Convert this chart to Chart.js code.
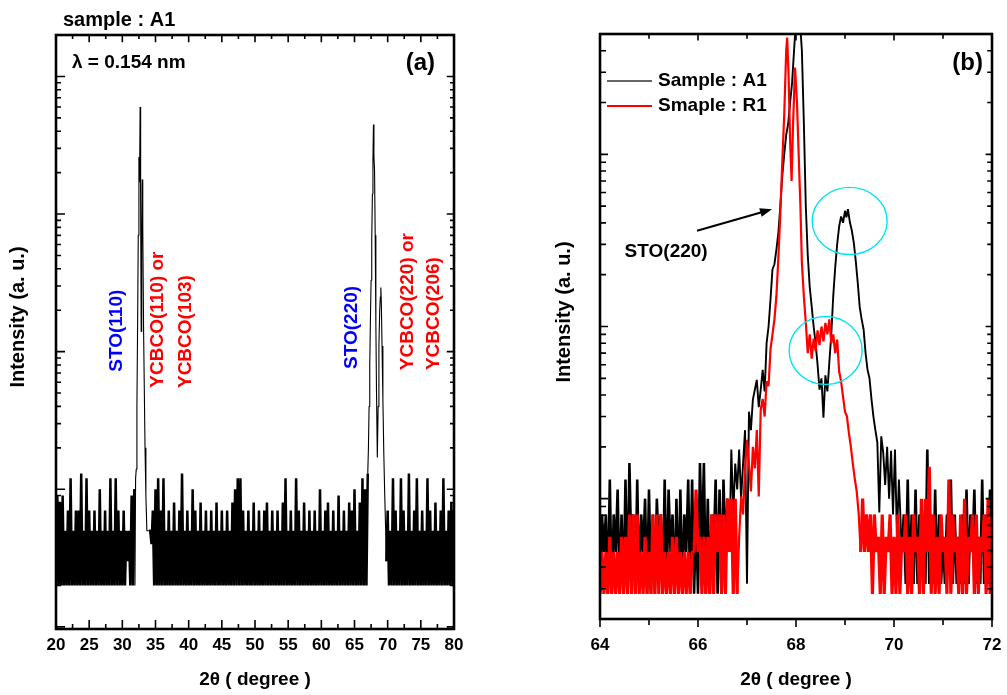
<!DOCTYPE html>
<html>
<head>
<meta charset="utf-8">
<script src="https://cdn.jsdelivr.net/npm/chart.js@4.4.0/dist/chart.umd.min.js"></script>
<style>
  body { margin: 0; background: #fff; }
  #wrap { position: relative; width: 1007px; height: 695px; }
  canvas { position: absolute; top: 0; }
  #chartA { left: 0; }
  #chartB { left: 520px; }
</style>
</head>
<body>
<div id="wrap">
  <canvas id="chartA" width="520" height="695"></canvas>
  <canvas id="chartB" width="487" height="695"></canvas>
</div>
<script>
const FONT = "'Liberation Sans', Arial, sans-serif";
const BLUE = '#0000ff';
const RED = '#ff0000';
const CYAN = '#00e4f0';

// ---- panel (a): sample A1, 2theta 20-80, scan step 0.2 deg away from the peaks
const aStep = 0.2;
const aNoise1Start = 20.0;
const aNoise1 = [2,9,2,8,2,9,2,5,2,7,2,12,2,5,2,7,2,7,2,13,2,5,2,12,2,7,2,5,2,7,
  2,5,2,10,2,5,2,7,2,5,2,12,2,5,2,12,2,7,2,5,2,7,2,5,3,5,2,9,2,10];
const aPeak1X = [31.9, 32.0, 32.1, 32.2, 32.3, 32.4, 32.5, 32.6, 32.68, 32.76, 32.84, 32.92, 33.0, 33.08, 33.2, 33.3, 33.42, 33.55, 33.7, 33.85];
const aPeak1Y = [2, 12, 14, 40, 150, 700, 2600, 1700, 6000, 1200, 140, 600, 1780, 800, 150, 60, 20, 9, 5, 5];
const aNoise2Start = 34.0;
const aNoise2 = [5,5,4,7,2,10,2,12,2,7,2,12,2,5,2,7,2,5,2,8,
  2,5,2,7,2,13,2,5,2,7,2,5,2,10,2,7,2,5,2,8,
  2,5,2,7,2,5,2,7,2,5,2,8,2,5,2,7,2,5,2,7,
  2,5,2,8,2,10,2,12,2,12,2,7,2,5,2,7,2,5,2,8,
  2,5,2,7,2,5,2,7,2,8,2,5,2,7,2,5,2,7,2,5,
  2,8,2,12,2,5,2,7,2,5,2,12,2,7,2,5,2,8,2,5,
  2,7,2,5,2,7,2,5,2,10,2,5,2,7,2,8,2,5,2,7,
  2,5,2,9,2,5,2,7,2,5,2,8,2,7,2,10,2,5,2,8,
  2,12,2,10,2,13];
const aPeak2X = [67.1, 67.2, 67.3, 67.4, 67.5, 67.6, 67.7, 67.78, 67.86, 67.93, 68.02, 68.12, 68.22, 68.32, 68.44, 68.56, 68.68, 68.8, 68.9, 68.97, 69.05, 69.15, 69.28, 69.42, 69.56, 69.7];
const aPeak2Y = [20, 40, 80, 170, 330, 650, 1400, 2500, 4480, 2600, 2100, 700, 160, 50, 17, 40, 110, 200, 250, 292, 220, 110, 45, 18, 9, 5];
const aNoise3Start = 69.8;
const aNoise3 = [3,7,2,5,2,12,2,7,2,5,2,12,2,7,2,5,2,13,2,5,2,7,2,12,2,5,2,7,2,5,
  2,12,2,7,2,5,2,8,2,5,2,7,2,12,2,5,2,7,2,8,2,7];
const aXTicks = [20, 25, 30, 35, 40, 45, 50, 55, 60, 65, 70, 75, 80];
const aXMinor = [22.5, 27.5, 32.5, 37.5, 42.5, 47.5, 52.5, 57.5, 62.5, 67.5, 72.5, 77.5];

// ---- panel (b): zoom 64-72, sample A1 and R1, scan step 0.04 deg in the flat parts
const bStep = 0.04;
const bA1Noise1Start = 64.0;
const bA1Noise1 = [28,81,49,81,28,129,28,81,49,113,28,81,28,129,28,161,49,81,28,129,
  28,81,49,100,28,113,28,81,28,100,49,81,28,129,28,113,49,81,28,100,
  28,113,28,81,49,129,28,129,28,81,28,161,49,161,28,100,28,81,49,129,
  28,113,28,129,49,100];
const bA1PeakX = [66.64, 66.68, 66.72, 66.76, 66.80, 66.84, 66.88, 66.92, 66.96, 67.00,
  67.04, 67.08, 67.12, 67.16, 67.20, 67.24, 67.28, 67.32, 67.36, 67.40,
  67.44, 67.48, 67.52, 67.56, 67.60, 67.64, 67.68, 67.72, 67.76, 67.80,
  67.84, 67.88, 67.92, 67.96, 68.00, 68.04, 68.08, 68.12, 68.16, 68.20,
  68.24, 68.28, 68.32, 68.36, 68.40, 68.44, 68.48, 68.52, 68.56, 68.60,
  68.64, 68.68, 68.72, 68.76, 68.80, 68.84, 68.88, 68.92, 68.96, 69.00,
  69.03, 69.06, 69.10, 69.14, 69.18, 69.22, 69.26, 69.30, 69.34, 69.38,
  69.42, 69.46, 69.50, 69.54, 69.58, 69.62, 69.66, 69.70, 69.74, 69.78,
  69.82, 69.86, 69.90, 69.94, 69.98, 70.02, 70.06, 70.10];
const bA1PeakY = [49, 193, 81, 160, 113, 193, 100, 160, 250, 32,
  320, 250, 376, 430, 490, 340, 430, 560, 420, 800,
  1000, 1440, 2150, 2300, 2800, 3500, 5000, 7500, 10000, 13000,
  15000, 20000, 26000, 40000, 60000, 52000, 60000, 40000, 15300, 5000,
  2600, 1700, 1310, 1000, 800, 600, 430, 500, 295, 520,
  420, 617, 900, 1500, 2200, 3000, 3800, 4360, 4000, 4700,
  4300, 4800, 4030, 3600, 3060, 2400, 1800, 1300, 1100, 960,
  700, 560, 500, 380, 300, 250, 212, 83, 230, 185,
  120, 200, 100, 190, 81, 193, 60, 129];
const bA1Noise2Start = 70.16;
const bA1Noise2 = [49,81,32,129,32,81,32,113,32,81,49,60,32,193,32,81,32,113,32,81,
  32,60,32,81,49,129,32,81,32,60,32,81,32,113,32,81,49,113,32,60,
  32,129,32,81,32,113,32];

const bR1Noise1Start = 64.0;
const bR1Noise1 = [28,49,28,49,28,60,28,49,28,49,28,60,28,60,28,81,28,81,28,81,
  28,49,28,60,28,49,28,81,28,81,28,81,28,49,28,49,28,60,28,60,
  28,49,28,49,28,49,28,49,49,113,49,60,28,60,28,60,28,81,28,81,
  49,81,28,81,28,100,49,100,28,100,28];
const bR1PeakX = [66.84, 66.88, 66.92, 66.96, 67.00, 67.04, 67.08, 67.12, 67.16, 67.20,
  67.24, 67.28, 67.32, 67.36, 67.40, 67.44, 67.48, 67.52, 67.56, 67.60,
  67.64, 67.68, 67.72, 67.76, 67.80, 67.82, 67.85, 67.88, 67.91, 67.94,
  67.98, 68.02, 68.06, 68.09, 68.12, 68.16, 68.20, 68.24, 68.28, 68.32,
  68.36, 68.40, 68.44, 68.48, 68.52, 68.56, 68.60, 68.64, 68.68, 68.72,
  68.76, 68.80, 68.84, 68.88, 68.92, 68.96, 69.00, 69.04, 69.08, 69.12,
  69.16, 69.20, 69.24, 69.28];
const bR1PeakY = [60, 103, 81, 150, 220, 160, 110, 200, 150, 250,
  103, 330, 380, 300, 480, 450, 740, 900, 1100, 1500,
  2500, 4500, 9000, 17000, 40000, 47700, 28000, 12000, 7000, 15000,
  31900, 20000, 9000, 5000, 2350, 1500, 1055, 700, 900, 650,
  850, 720, 950, 780, 1000, 820, 1050, 900, 1100, 800,
  900, 700, 840, 550, 480, 390, 320, 300, 240, 200,
  160, 130, 110, 81];
const bR1Noise2Start = 69.32;
const bR1Noise2 = [49,100,49,81,49,81,28,81,49,60,28,81,28,60,49,81,28,60,28,81,
  28,60,49,81,28,60,28,81,49,60,28,100,28,100,49,153,28,81,28,60,
  28,81,49,60,28,129,28,81,49,60,28,81,28,100,28,60,49,81,28,81,
  28,60,49,81,28,100,28,81];
const bXTicks = [64, 66, 68, 70, 72];
const bXMinor = [65, 67, 69, 71];

// noise parts of a scan are flagged so they can be stroked a bit heavier
function scanPoints(start, step, ys) {
  return ys.map((v, i) => ({x: Math.round((start + i * step) * 100) / 100, y: v, noise: true}));
}
function pairPoints(xs, ys) {
  return xs.map((x, i) => ({x: x, y: ys[i], noise: false}));
}
function logMinor(min, max) {
  let out = [];
  for (let e = Math.floor(Math.log10(min)); e <= Math.ceil(Math.log10(max)); e++) {
    for (let m = 2; m <= 9; m++) {
      let v = m * Math.pow(10, e);
      if (v > min && v < max) out.push(v);
    }
  }
  return out;
}

const aPoints = [].concat(
  scanPoints(aNoise1Start, aStep, aNoise1),
  pairPoints(aPeak1X, aPeak1Y),
  scanPoints(aNoise2Start, aStep, aNoise2),
  pairPoints(aPeak2X, aPeak2Y),
  scanPoints(aNoise3Start, aStep, aNoise3)
);
const bA1Points = [].concat(
  scanPoints(bA1Noise1Start, bStep, bA1Noise1),
  pairPoints(bA1PeakX, bA1PeakY),
  scanPoints(bA1Noise2Start, bStep, bA1Noise2)
);
const bR1Points = [].concat(
  scanPoints(bR1Noise1Start, bStep, bR1Noise1),
  pairPoints(bR1PeakX, bR1PeakY),
  scanPoints(bR1Noise2Start, bStep, bR1Noise2)
);

function widthBy(points, noiseW, peakW) {
  return c => (points[c.p0DataIndex].noise && points[c.p1DataIndex].noise) ? noiseW : peakW;
}

// box + tick marks, drawn from the chart's own scales
const axisFrame = {
  id: 'axisFrame',
  afterDatasetsDraw(chart, args, o) {
    const {ctx, chartArea: ca, scales} = chart;
    const xs = scales.x, ys = scales.y;
    ctx.save();
    ctx.strokeStyle = '#000';
    ctx.lineWidth = 1.6;
    ctx.beginPath();
    function xTick(v, len) {
      let px = xs.getPixelForValue(v);
      ctx.moveTo(px, ca.bottom); ctx.lineTo(px, ca.bottom + o.bottomDir * len);
      ctx.moveTo(px, ca.top); ctx.lineTo(px, ca.top + len * 0.8);
    }
    function yTick(v, len) {
      let py = ys.getPixelForValue(v);
      ctx.moveTo(ca.left, py); ctx.lineTo(ca.left + len, py);
      ctx.moveTo(ca.right, py); ctx.lineTo(ca.right - len * 0.8, py);
    }
    o.xMajor.forEach(v => xTick(v, o.major));
    o.xMinor.forEach(v => xTick(v, o.minor));
    o.yMajor.forEach(v => yTick(v, o.major));
    logMinor(ys.min, ys.max).forEach(v => yTick(v, o.minor));
    ctx.stroke();
    ctx.lineWidth = 2.6;
    ctx.strokeRect(ca.left, ca.top, ca.width, ca.height);
    ctx.restore();
  }
};

// text labels, legend, arrow and circles
const notes = {
  id: 'notes',
  afterDraw(chart, args, o) {
    const {ctx, chartArea: ca, scales: {x, y}} = chart;
    (o.texts || []).forEach(t => {
      ctx.save();
      let px, py;
      if (t.from) {
        px = (t.from === 'left' ? ca.left : ca.right) + t.dx;
        py = ca.top + t.dy;
      } else {
        px = x.getPixelForValue(t.x);
        py = y.getPixelForValue(t.y);
      }
      ctx.font = 'bold ' + (t.size || 19) + 'px ' + FONT;
      ctx.fillStyle = t.color || '#000';
      ctx.textAlign = t.align || 'center';
      ctx.textBaseline = 'middle';
      ctx.translate(px, py);
      if (t.rot) ctx.rotate(-Math.PI / 2);
      ctx.fillText(t.text, 0, 0);
      ctx.restore();
    });
    (o.legend || []).forEach(l => {
      ctx.save();
      ctx.strokeStyle = l.color;
      ctx.lineWidth = l.width;
      ctx.beginPath();
      ctx.moveTo(ca.left + 7, ca.top + l.dy);
      ctx.lineTo(ca.left + 52, ca.top + l.dy);
      ctx.stroke();
      ctx.font = 'bold 19px ' + FONT;
      ctx.fillStyle = '#000';
      ctx.textAlign = 'left';
      ctx.textBaseline = 'middle';
      ctx.fillText(l.text, ca.left + 58, ca.top + l.dy);
      ctx.restore();
    });
    (o.ellipses || []).forEach(e => {
      let x0 = x.getPixelForValue(e.x[0]), x1 = x.getPixelForValue(e.x[1]);
      let y0 = y.getPixelForValue(e.y[0]), y1 = y.getPixelForValue(e.y[1]);
      ctx.save();
      ctx.strokeStyle = CYAN;
      ctx.lineWidth = 1.4;
      ctx.beginPath();
      ctx.ellipse((x0 + x1) / 2, (y0 + y1) / 2, Math.abs(x1 - x0) / 2, Math.abs(y1 - y0) / 2, 0, 0, Math.PI * 2);
      ctx.stroke();
      ctx.restore();
    });
    (o.arrows || []).forEach(a => {
      let x0 = x.getPixelForValue(a.from[0]), y0 = y.getPixelForValue(a.from[1]);
      let x1 = x.getPixelForValue(a.to[0]), y1 = y.getPixelForValue(a.to[1]);
      let ang = Math.atan2(y1 - y0, x1 - x0);
      ctx.save();
      ctx.strokeStyle = '#000';
      ctx.fillStyle = '#000';
      ctx.lineWidth = 2;
      ctx.beginPath();
      ctx.moveTo(x0, y0);
      ctx.lineTo(x1 - 8 * Math.cos(ang), y1 - 8 * Math.sin(ang));
      ctx.stroke();
      ctx.beginPath();
      ctx.moveTo(x1, y1);
      ctx.lineTo(x1 - 12 * Math.cos(ang) + 4.5 * Math.sin(ang), y1 - 12 * Math.sin(ang) - 4.5 * Math.cos(ang));
      ctx.lineTo(x1 - 12 * Math.cos(ang) - 4.5 * Math.sin(ang), y1 - 12 * Math.sin(ang) + 4.5 * Math.cos(ang));
      ctx.closePath();
      ctx.fill();
      ctx.restore();
    });
  }
};

function makeScales(xMin, xMax, xTicks, yMin, yMax, yWidth, xHeight, labelPad) {
  return {
    x: {
      type: 'linear', min: xMin, max: xMax,
      grid: {display: false, drawTicks: false},
      border: {display: false},
      afterBuildTicks: s => { s.ticks = xTicks.map(v => ({value: v})); },
      afterFit: s => { s.height = xHeight; s.paddingLeft = 0; s.paddingRight = 0; },
      ticks: {
        autoSkip: false, maxRotation: 0, padding: labelPad, color: '#000',
        font: {family: FONT, size: 17, weight: 'bold'},
        callback: v => String(v)
      },
      title: {
        display: true, text: '2θ ( degree )', color: '#000',
        font: {family: FONT, size: 19, weight: 'bold'},
        padding: {top: 0, bottom: 4}
      }
    },
    y: {
      type: 'logarithmic', min: yMin, max: yMax,
      grid: {display: false, drawTicks: false},
      border: {display: false},
      ticks: {display: false},
      afterFit: s => { s.width = yWidth; },
      title: {display: false}
    }
  };
}

function initCharts() {
  new Chart(document.getElementById('chartA'), {
    type: 'line',
    data: {
      datasets: [{
        label: 'Sample : A1',
        data: aPoints,
        borderColor: '#000',
        borderWidth: 1.1,
        borderJoinStyle: 'bevel',
        segment: {borderWidth: widthBy(aPoints, 2.5, 1.1)},
        pointRadius: 0,
        tension: 0,
        fill: false
      }]
    },
    options: {
      responsive: false,
      animation: false,
      events: [],
      layout: {padding: {left: 0, top: 35, right: 66, bottom: 0}},
      scales: makeScales(20, 80, aXTicks, 0.965, 20000, 56, 66, 6),
      plugins: {
        legend: {display: false},
        tooltip: {enabled: false},
        axisFrame: {xMajor: aXTicks, xMinor: aXMinor, yMajor: [1, 10, 100, 1000, 10000], major: 9, minor: 5, bottomDir: -1},
        notes: {
          texts: [
            {text: 'Intensity (a. u.)', from: 'left', dx: -38, dy: 282, rot: true, size: 20},
            {text: 'sample : A1', from: 'left', dx: 7, dy: -15, align: 'left', size: 20},
            {text: 'λ = 0.154 nm', from: 'left', dx: 16, dy: 28, align: 'left', size: 19},
            {text: '(a)', from: 'right', dx: -19, dy: 28, align: 'right', size: 24},
            {text: 'STO(110)', x: 29.2, y: 142, color: BLUE, rot: true},
            {text: 'YCBCO(110) or', x: 35.4, y: 171, color: RED, rot: true},
            {text: 'YCBCO(103)', x: 39.5, y: 140, color: RED, rot: true},
            {text: 'STO(220)', x: 64.6, y: 150, color: BLUE, rot: true},
            {text: 'YCBCO(220) or', x: 73.05, y: 231, color: RED, rot: true},
            {text: 'YCBCO(206)', x: 76.97, y: 189, color: RED, rot: true}
          ]
        }
      }
    },
    plugins: [axisFrame, notes]
  });

  new Chart(document.getElementById('chartB'), {
    type: 'line',
    data: {
      datasets: [
        {
          label: 'Smaple : R1',
          data: bR1Points,
          borderColor: RED,
          borderWidth: 2.2,
          borderJoinStyle: 'bevel',
          segment: {borderWidth: widthBy(bR1Points, 3.2, 2.2)},
          pointRadius: 0,
          tension: 0,
          fill: false,
          order: 0
        },
        {
          label: 'Sample : A1',
          data: bA1Points,
          borderColor: '#000',
          borderWidth: 1.9,
          borderJoinStyle: 'bevel',
          segment: {borderWidth: widthBy(bA1Points, 2.6, 1.9)},
          pointRadius: 0,
          tension: 0,
          fill: false,
          order: 1
        }
      ]
    },
    options: {
      responsive: false,
      animation: false,
      events: [],
      layout: {padding: {left: 0, top: 34, right: 15, bottom: 0}},
      scales: makeScales(64, 72, bXTicks, 20, 50000, 80, 76, 16),
      plugins: {
        legend: {display: false},
        tooltip: {enabled: false},
        axisFrame: {xMajor: bXTicks, xMinor: bXMinor, yMajor: [100, 1000, 10000], major: 8, minor: 6, bottomDir: 1},
        notes: {
          texts: [
            {text: 'Intensity (a. u.)', from: 'left', dx: -36, dy: 278, rot: true, size: 20},
            {text: '(b)', from: 'right', dx: -9, dy: 29, align: 'right', size: 24},
            {text: 'STO(220)', x: 65.35, y: 2730}
          ],
          legend: [
            {text: 'Sample : A1', color: '#333', width: 1.4, dy: 47},
            {text: 'Smaple : R1', color: RED, width: 2, dy: 72}
          ],
          ellipses: [
            {x: [68.33, 69.86], y: [2620, 6430]},
            {x: [67.86, 69.35], y: [460, 1143]}
          ],
          arrows: [
            {from: [65.98, 3600], to: [67.51, 4800]}
          ]
        }
      }
    },
    plugins: [axisFrame, notes]
  });
}

window.addEventListener('load', initCharts);
</script>
</body>
</html>
